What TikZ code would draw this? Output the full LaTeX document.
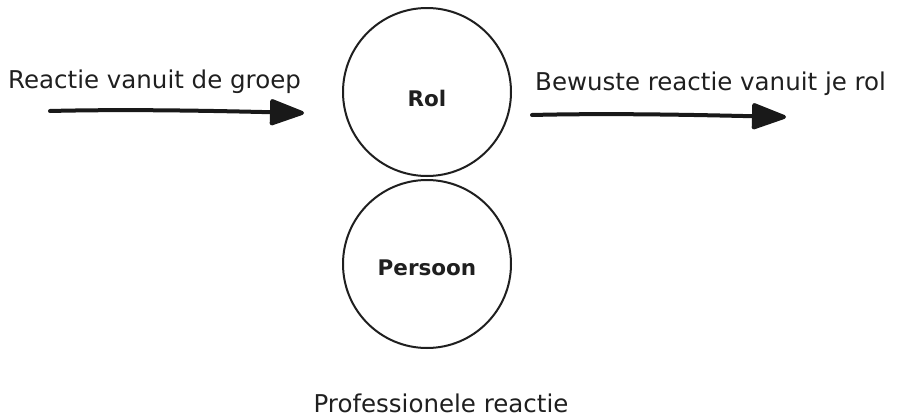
\documentclass[tikz,border=0pt]{standalone}
\usepackage{fontspec}
\setmainfont{DejaVu Sans}
\usetikzlibrary{arrows.meta}
\begin{document}
\begin{tikzpicture}[x=1pt,y=-1pt,
  label text/.style={font=\fontsize{24.5}{29}\selectfont, text=black!88, inner sep=0pt},
  circ/.style={circle, draw=black!88, line width=2pt, minimum size=168pt, inner sep=0pt},
  circ text/.style={font=\bfseries\fontsize{21.5}{26}\selectfont, text=black!88, inner sep=0pt},
  flow/.style={line width=4pt, line cap=round, draw=black!90,
    -{Triangle[round,length=38pt,width=27pt]}}]
  \useasboundingbox (0,0) rectangle (900,418);

  % the two stacked circles and their captions
  \node[circ] (rol) at (427,92) {};
  \node[circ] (persoon) at (427,264) {};
  \node[circ text] (rolT) at ([yshift=-6pt]rol.center) {Rol};
  \node[circ text] (persoonT) at ([yshift=-4pt]persoon.center) {Persoon};

  % labels
  \node[label text, anchor=base west] (groep) at (8,88) {Reactie vanuit de groep};
  \node[label text, anchor=base west] (bewust) at (535,90) {Bewuste reactie vanuit je rol};
  \node[label text, anchor=base] (prof) at (441,412) {Professionele reactie};

  % arrow ends
  \coordinate (inS) at (50,111);
  \coordinate (inE) at (304,113);
  \coordinate (outS) at (532,115);
  \coordinate (outE) at (786,117);

  \draw[flow] (inS) .. controls (130,109) and (220,111) .. (inE);
  \draw[flow] (outS) .. controls (610,113) and (700,115) .. (outE);
\end{tikzpicture}
\end{document}
